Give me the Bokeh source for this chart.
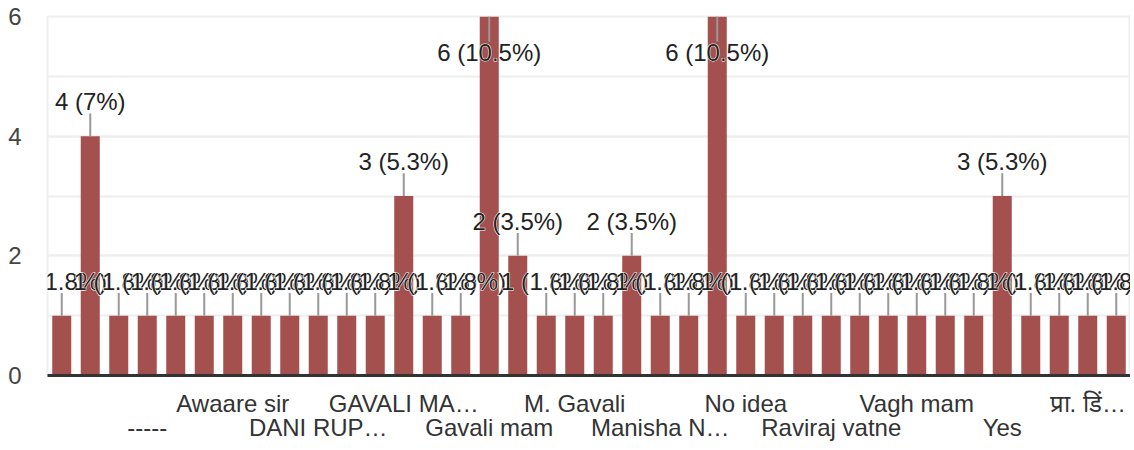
from bokeh.plotting import figure
from bokeh.models import (Range1d, FixedTicker, SingleIntervalTicker, LinearAxis,
                          ColumnDataSource, Label)
from bokeh.embed import file_html
from bokeh.resources import INLINE

# ---- data ----
categories = [
    ".", "-", "----", "-----", "A", "Awaare", "Awaare sir", "Awre sir", "D. Rupali", "DANI RUP…",
    "Dani mam", "G. mam", "GAVALI MA…", "Gavali", "Gavali madam", "Gavali mam", "Gavali ma'am",
    "Gawali mam", "M. Gavali", "Madam", "Manisha Gavali", "Manisha N…", "NA", "No", "No idea",
    "Nothing", "Rathod sir", "Raviraj vatne", "Sir", "Vagh", "Vagh mam", "Vagh madam", "Waghmare",
    "Yes", "no", "yes", "प्रा. डिं…", "माहित नाही",
]
counts = [
    1, 4, 1, 1, 1, 1, 1, 1, 1, 1,
    1, 1, 3, 1, 1, 6, 2,
    1, 1, 1, 2, 1, 1, 6, 1,
    1, 1, 1, 1, 1, 1, 1, 1,
    3, 1, 1, 1, 1,
]
y_ticks_major = 2
y_max = 6
label_every = 3

FONT = "Liberation Sans"
FS = "24px"
BAR = "#a3504f"

total = sum(counts)
idx = list(range(len(categories)))
pct = [round(c / total * 100, 1) for c in counts]
labels = [f"{c} ({p:g}%)" for c, p in zip(counts, pct)]
inside = [c >= y_max for c in counts]

p = figure(width=1130, height=450, output_backend="svg", toolbar_location=None,
           x_range=Range1d(-0.5, len(categories) - 0.5), y_range=Range1d(0, y_max),
           min_border_left=47, min_border_right=0, min_border_top=16, min_border_bottom=75)
p.outline_line_color = "#eeeeee"
p.outline_line_width = 2
p.background_fill_color = "white"
p.border_fill_color = "white"

src = ColumnDataSource(dict(x=idx, top=counts, label=labels,
                            lead=[c - 0.42 if ins else c + 0.38 for c, ins in zip(counts, inside)]))
p.vbar(x="x", top="top", width=0.667, bottom=0, source=src, fill_color=BAR, line_color=None)

# leader lines
p.segment(x0="x", y0="top", x1="x", y1="lead", source=src, line_color="#999999", line_width=2)

# labels, drawn one by one: white halo then dark text
for i in idx:
    if inside[i]:
        kw = dict(text_baseline="top", y_offset=-22)
    else:
        kw = dict(text_baseline="bottom", y_offset=21)
    p.add_layout(Label(x=idx[i], y=counts[i], text=labels[i], text_font=FONT, level="overlay",
                       text_font_size=FS, text_color="white", text_outline_color="white",
                       text_align="center", **kw))
    p.add_layout(Label(x=idx[i], y=counts[i], text=labels[i], text_font=FONT, level="overlay",
                       text_font_size=FS, text_color="#222222", text_align="center", **kw))

# y axis
p.yaxis.ticker = SingleIntervalTicker(interval=y_ticks_major, num_minor_ticks=2)
p.yaxis.axis_line_color = None
p.yaxis.major_tick_line_color = None
p.yaxis.minor_tick_line_color = None
p.yaxis.major_label_standoff = 20
p.yaxis.major_label_text_font = FONT
p.yaxis.major_label_text_font_size = FS
p.yaxis.major_label_text_color = "#444444"
p.ygrid.grid_line_color = "#eeeeee"
p.ygrid.grid_line_width = 2
p.ygrid.minor_grid_line_color = "#eeeeee"
p.ygrid.minor_grid_line_width = 2
p.xgrid.grid_line_color = None

# x axes: staggered labels
row1 = [i for i in idx if i % label_every == 0 and (i // label_every) % 2 == 0 and i > 0]
row2 = [i for i in idx if i % label_every == 0 and (i // label_every) % 2 == 1]
ax1 = p.xaxis[0]
ax1.ticker = FixedTicker(ticks=row1)
ax1.major_label_overrides = {i: categories[i] for i in row1}
ax1.axis_line_color = "#333333"
ax1.axis_line_width = 3
ax1.major_tick_line_color = None
ax1.minor_tick_line_color = None
ax1.major_label_standoff = 8
ax1.major_label_text_font = FONT
ax1.major_label_text_font_size = FS
ax1.major_label_text_color = "#333333"

ax2 = LinearAxis(ticker=FixedTicker(ticks=row2),
                 major_label_overrides={i: categories[i] for i in row2},
                 axis_line_color=None, major_tick_line_color=None, minor_tick_line_color=None,
                 major_label_standoff=-12, major_label_text_font=FONT,
                 major_label_text_font_size=FS, major_label_text_color="#333333")
p.add_layout(ax2, "below")

open("out.html", "w").write(file_html(p, INLINE))
